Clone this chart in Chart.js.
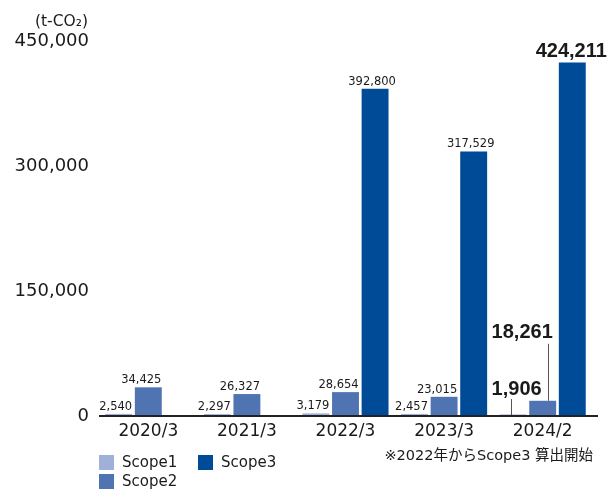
<!DOCTYPE html>
<html>
<head>
  <meta charset="utf-8" />
  <title>GHG emissions</title>
  <script src="https://cdn.jsdelivr.net/npm/chart.js@4.4.0/dist/chart.umd.min.js"></script>
  <style>
    body {
      margin: 0;
      background: #fff;
      font-family: "DejaVu Sans", "Noto Sans CJK JP", sans-serif;
      color: #1a1a1a;
    }
    #wrap {
      position: relative;
      width: 609px;
      height: 492px;
    }
    canvas { display: block; }
    .unit {
      position: absolute;
      right: 521px;
      top: 11px;
      font-size: 15.5px;
      line-height: 20px;
    }
    .legend-item {
      position: absolute;
      font-size: 15px;
      line-height: 15px;
      height: 15px;
      white-space: nowrap;
    }
    .legend-item span {
      display: inline-block;
      width: 15px;
      height: 15px;
      margin-right: 8px;
      vertical-align: top;
    }
    .note {
      position: absolute;
      right: 16px;
      top: 446px;
      font-size: 14.5px;
      line-height: 18px;
      white-space: nowrap;
    }
  </style>
</head>
<body>

<div id="wrap">
  <canvas id="ghgChart" width="609" height="492"></canvas>
  <div class="unit">(t-CO₂)</div>
  <div class="legend-item" style="left:99px; top:455px;"><span style="background:#a0b0d8"></span>Scope1</div>
  <div class="legend-item" style="left:198px; top:455px;"><span style="background:#004b98"></span>Scope3</div>
  <div class="legend-item" style="left:99px; top:474px;"><span style="background:#5073b2"></span>Scope2</div>
  <div class="note">※2022年からScope3 算出開始</div>
</div>

<script>
  // values
  const years = ['2020/3', '2021/3', '2022/3', '2023/3', '2024/2'];
  const scope1 = [2540, 2297, 3179, 2457, 1906];
  const scope2 = [34425, 26327, 28654, 23015, 18261];
  const scope3 = [null, null, 392800, 317529, 424211];
  const yTicks = [0, 150000, 300000, 450000];

  const colors = ['#a0b0d8', '#5073b2', '#004b98'];
  const labelsOf = ['Scope1', 'Scope2', 'Scope3'];
  // labels sit a little left of the bar centre in the original
  const labelShift = [-3, -7, -3];

  const fmt = v => v.toLocaleString('en-US');

  // value labels above bars, latest year highlighted with leader lines
  const valueLabels = {
    id: 'valueLabels',
    afterDatasetsDraw(chart) {
      const ctx = chart.ctx;
      const last = years.length - 1;
      ctx.save();
      ctx.fillStyle = '#1a1a1a';
      ctx.textAlign = 'center';
      ctx.textBaseline = 'alphabetic';
      chart.data.datasets.forEach((ds, i) => {
        const meta = chart.getDatasetMeta(i);
        meta.data.forEach((bar, j) => {
          const v = ds.data[j];
          if (v == null || j === last) return;
          ctx.font = '11.5px "DejaVu Sans"';
          ctx.fillText(fmt(v), bar.x + labelShift[i], bar.y - 4);
        });
      });

      const bottom = chart.chartArea.bottom;
      const b1 = chart.getDatasetMeta(0).data[last];
      const b2 = chart.getDatasetMeta(1).data[last];
      const b3 = chart.getDatasetMeta(2).data[last];
      ctx.font = 'bold 20px "Liberation Sans"';
      ctx.fillText(fmt(scope3[last]), b3.x - 1, b3.y - 5);
      ctx.fillText(fmt(scope1[last]), b1.x + 3.5, bottom - 21);
      ctx.fillText(fmt(scope2[last]), b2.x - 20.5, b2.y - 63);

      ctx.strokeStyle = '#555';
      ctx.lineWidth = 1;
      ctx.beginPath();
      ctx.moveTo(Math.round(b1.x - 2) + 0.5, bottom - 17);
      ctx.lineTo(Math.round(b1.x - 2) + 0.5, bottom);
      ctx.moveTo(Math.round(b2.x + 5.5) + 0.5, b2.y - 57);
      ctx.lineTo(Math.round(b2.x + 5.5) + 0.5, b2.y);
      ctx.stroke();

      // baseline
      ctx.fillStyle = '#222';
      ctx.fillRect(chart.chartArea.left, bottom - 1, 598 - chart.chartArea.left, 2);
      ctx.restore();
    }
  };

  new Chart(document.getElementById('ghgChart').getContext('2d'), {
    type: 'bar',
    data: {
      labels: years,
      datasets: [scope1, scope2, scope3].map((d, i) => ({
        label: labelsOf[i],
        data: d,
        backgroundColor: colors[i],
        borderWidth: 0,
        categoryPercentage: 0.9,
        barPercentage: 0.91
      }))
    },
    options: {
      responsive: false,
      devicePixelRatio: 1,
      animation: false,
      layout: { padding: { left: 0, top: 41, right: 17, bottom: 0 } },
      plugins: {
        legend: { display: false },
        tooltip: { enabled: false }
      },
      scales: {
        x: {
          grid: { display: false, drawTicks: false },
          border: { display: false },
          ticks: {
            color: '#1a1a1a',
            font: { family: 'DejaVu Sans', size: 17 },
            padding: 5,
            maxRotation: 0
          },
          afterFit(scale) { scale.height = 76; }
        },
        y: {
          min: 0,
          max: 450000,
          grid: { display: false, drawTicks: false },
          border: { display: false },
          afterBuildTicks(scale) { scale.ticks = yTicks.map(v => ({ value: v })); },
          ticks: {
            color: '#1a1a1a',
            font: { family: 'DejaVu Sans', size: 18 },
            padding: 10,
            callback: v => fmt(v)
          },
          afterFit(scale) { scale.width = 99; }
        }
      }
    },
    plugins: [valueLabels]
  });
</script>

</body>
</html>
